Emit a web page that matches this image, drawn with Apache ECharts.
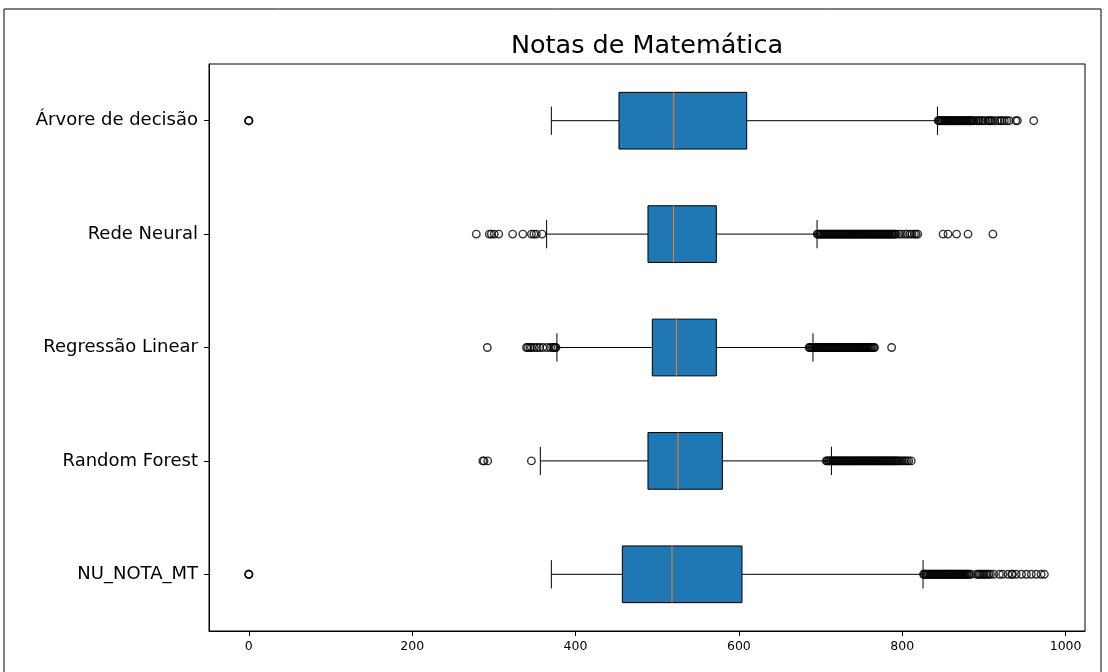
<!DOCTYPE html>
<html>
<head>
<meta charset="utf-8">
<script src="https://cdn.jsdelivr.net/npm/echarts@6/dist/echarts.min.js"></script>
<style>
    html, body { margin: 0; padding: 0; background: #fff; }
    #chart { width: 1108px; height: 672px; }
</style>
</head>
<body>
<div id="chart"></div>
<script>
// categorias de baixo para cima (posições 1..5 do boxplot)
var categories = ['NU_NOTA_MT', 'Random Forest', 'Regressão Linear', 'Rede Neural', 'Árvore de decisão'];

// estatísticas de cada caixa
var whiskerLow = [370.4, 356.9, 377.2, 364.6, 370.4];
var q1 = [457.3, 488.7, 494.0, 488.7, 453.2];
var median = [518.1, 525.4, 523.5, 519.9, 520.2];
var q3 = [603.8, 579.8, 572.4, 572.4, 609.6];
var whiskerHigh = [825.5, 713.3, 690.7, 695.7, 843.1];

// outliers
var fliersNota = [0, 0, 0,
    826, 827, 828.5, 829.5, 831, 832, 833.5, 834.5, 836, 837, 838.5, 839.5, 841, 842, 843.5, 844.5,
    846, 847, 848.5, 849.5, 851, 852, 853.5, 854.5, 856, 857, 858.5, 859.5, 861, 862, 863.5, 864.5,
    866, 867, 868.5, 869.5, 871, 872, 873.5, 874.5, 876, 877, 878.5, 879.5, 881, 882,
    884.5, 891, 893, 894.5, 896, 898, 900, 902, 904, 906, 908, 912, 919, 923, 929.5, 934, 935,
    939.5, 946, 952, 958, 964, 970, 974];
var fliersForest = [286.5, 288, 292.5, 346,
    707, 708, 709.5, 710.5, 712, 713, 714.5, 715.5, 717, 718, 719.5, 720.5, 722, 723, 724.5, 725.5,
    727, 728, 729.5, 730.5, 732, 733, 734.5, 735.5, 737, 738, 739.5, 740.5, 742, 743, 744.5, 745.5,
    747, 748, 749.5, 750.5, 752, 753, 754.5, 755.5, 757, 758, 759.5, 760.5, 762, 763, 764.5, 765.5,
    767, 768, 769.5, 770.5, 772, 773, 774.5, 775.5, 777, 778, 779.5, 780.5, 782, 783, 784.5, 785.5,
    787, 788, 789.5, 790.5, 792, 793, 794.5, 796, 798, 800, 802, 804, 806, 808, 811];
var fliersLinear = [292, 340, 341.5, 344, 346, 349.5, 353, 356, 360, 365, 369.5, 372, 374, 375, 376,
    686, 687, 688.5, 689.5, 691, 692, 693.5, 694.5, 696, 697, 698.5, 699.5, 701, 702, 703.5, 704.5,
    706, 707, 708.5, 709.5, 711, 712, 713.5, 714.5, 716, 717, 718.5, 719.5, 721, 722, 723.5, 724.5,
    726, 727, 728.5, 729.5, 731, 732, 733.5, 734.5, 736, 737, 738.5, 739.5, 741, 742, 743.5, 744.5,
    746, 747, 748.5, 749.5, 751, 752, 753.5, 754.5, 756, 757, 758.5, 759.5, 761, 762, 763.5, 765, 766,
    787];
var fliersNeural = [278.5, 294.5, 297, 300.5, 306, 323, 335.5, 346, 349, 352, 359,
    696, 697, 698.5, 699.5, 701, 702, 703.5, 704.5, 706, 707, 708.5, 709.5, 711, 712, 713.5, 714.5,
    716, 717, 718.5, 719.5, 721, 722, 723.5, 724.5, 726, 727, 728.5, 729.5, 731, 732, 733.5, 734.5,
    736, 737, 738.5, 739.5, 741, 742, 743.5, 744.5, 746, 747, 748.5, 749.5, 751, 752, 753.5, 754.5,
    756, 757, 758.5, 759.5, 761, 762, 763.5, 764.5, 766, 767, 768.5, 769.5, 771, 772, 773.5, 774.5,
    776, 777, 778.5, 779.5, 781, 782, 783.5, 784.5, 786, 787, 788.5, 789.5, 791, 792.5,
    796, 799, 803, 806, 809.5, 812, 815, 817, 819, 850, 856, 866.5, 880.5, 911];
var fliersArvore = [0, 0, 0,
    844, 845, 846.5, 847.5, 849, 850, 851.5, 852.5, 854, 855, 856.5, 857.5, 859, 860, 861.5, 862.5,
    864, 865, 866.5, 867.5, 869, 870, 871.5, 872.5, 874, 875, 876.5, 877.5, 879, 880, 881.5, 882.5,
    884, 885, 886.5, 888,
    891, 893, 894.5, 897, 899, 902, 905, 906.5, 908, 910, 913, 917, 920, 922, 925, 928, 931, 939, 941, 961];

var xTicks = [0, 200, 400, 600, 800, 1000];
var xMin = -48.75, xMax = 1023.75;

var fliers = [fliersNota, fliersForest, fliersLinear, fliersNeural, fliersArvore];

var boxData = [];
var flierData = [];
for (var i = 0; i < categories.length; i++) {
    boxData.push([i, whiskerLow[i], q1[i], median[i], q3[i], whiskerHigh[i]]);
    for (var j = 0; j < fliers[i].length; j++) {
        flierData.push([fliers[i][j], i]);
    }
}

function renderBox(params, api) {
    var cat = api.value(0);
    var p = [1, 2, 3, 4, 5].map(function (d) {
        return api.coord([api.value(d), cat]);
    });
    var band = api.size([0, 1])[1];
    var hb = band * 0.25, hc = band * 0.125;
    var yc = p[0][1];
    function seg(x1, y1, x2, y2, color) {
        return {
            type: 'line',
            shape: { x1: x1, y1: y1, x2: x2, y2: y2 },
            style: { stroke: color || '#000', lineWidth: 1 }
        };
    }
    return {
        type: 'group',
        children: [
            seg(p[0][0], yc, p[1][0], yc),
            seg(p[3][0], yc, p[4][0], yc),
            seg(p[0][0], yc - hc, p[0][0], yc + hc),
            seg(p[4][0], yc - hc, p[4][0], yc + hc),
            {
                type: 'rect',
                shape: { x: p[1][0], y: yc - hb, width: p[3][0] - p[1][0], height: 2 * hb },
                style: { fill: '#1f77b4', stroke: '#000', lineWidth: 1 }
            },
            seg(p[2][0], yc - hb, p[2][0], yc + hb, '#ff7f0e')
        ]
    };
}

var chart = echarts.init(document.getElementById('chart'));
chart.setOption({
    animation: false,
    backgroundColor: '#fff',
    textStyle: { fontFamily: 'DejaVu Sans' },
    graphic: [{
        type: 'rect',
        shape: { x: 4, y: 9, width: 1097, height: 700 },
        style: { fill: 'none', stroke: '#000', lineWidth: 1 },
        silent: true
    }, {
        type: 'text',
        x: 647,
        y: 46,
        style: {
            text: 'Notas de Matemática',
            fontFamily: 'DejaVu Sans',
            fontSize: 25.5,
            fill: '#000',
            textAlign: 'center',
            textVerticalAlign: 'middle'
        }
    }],
    grid: {
        left: 209, right: 23, top: 64, bottom: 41,
        show: true, borderColor: '#000', borderWidth: 1
    },
    xAxis: {
        type: 'value',
        min: xMin,
        max: xMax,
        splitLine: { show: false },
        axisLine: { show: true, onZero: false, lineStyle: { color: '#000' } },
        axisTick: { show: true, length: 5, customValues: xTicks, lineStyle: { color: '#000' } },
        axisLabel: {
            customValues: xTicks,
            formatter: function (v) { return String(v); },
            color: '#000', fontSize: 12.5, margin: 9, fontFamily: 'DejaVu Sans'
        }
    },
    yAxis: {
        type: 'category',
        data: categories,
        axisLine: { show: true, onZero: false, lineStyle: { color: '#000' } },
        axisTick: { show: true, length: 5, alignWithLabel: true, lineStyle: { color: '#000' } },
        axisLabel: { color: '#000', fontSize: 18, margin: 11, fontFamily: 'DejaVu Sans' },
        splitLine: { show: false }
    },
    series: [{
        type: 'custom',
        renderItem: renderBox,
        encode: { x: [1, 2, 3, 4, 5], y: 0 },
        data: boxData,
        silent: true,
        z: 2
    }, {
        type: 'scatter',
        data: flierData,
        symbol: 'circle',
        symbolSize: 7.5,
        itemStyle: { color: 'rgba(0,0,0,0)', borderColor: '#000', borderWidth: 1.4 },
        silent: true,
        z: 3
    }]
});
</script>
</body>
</html>
